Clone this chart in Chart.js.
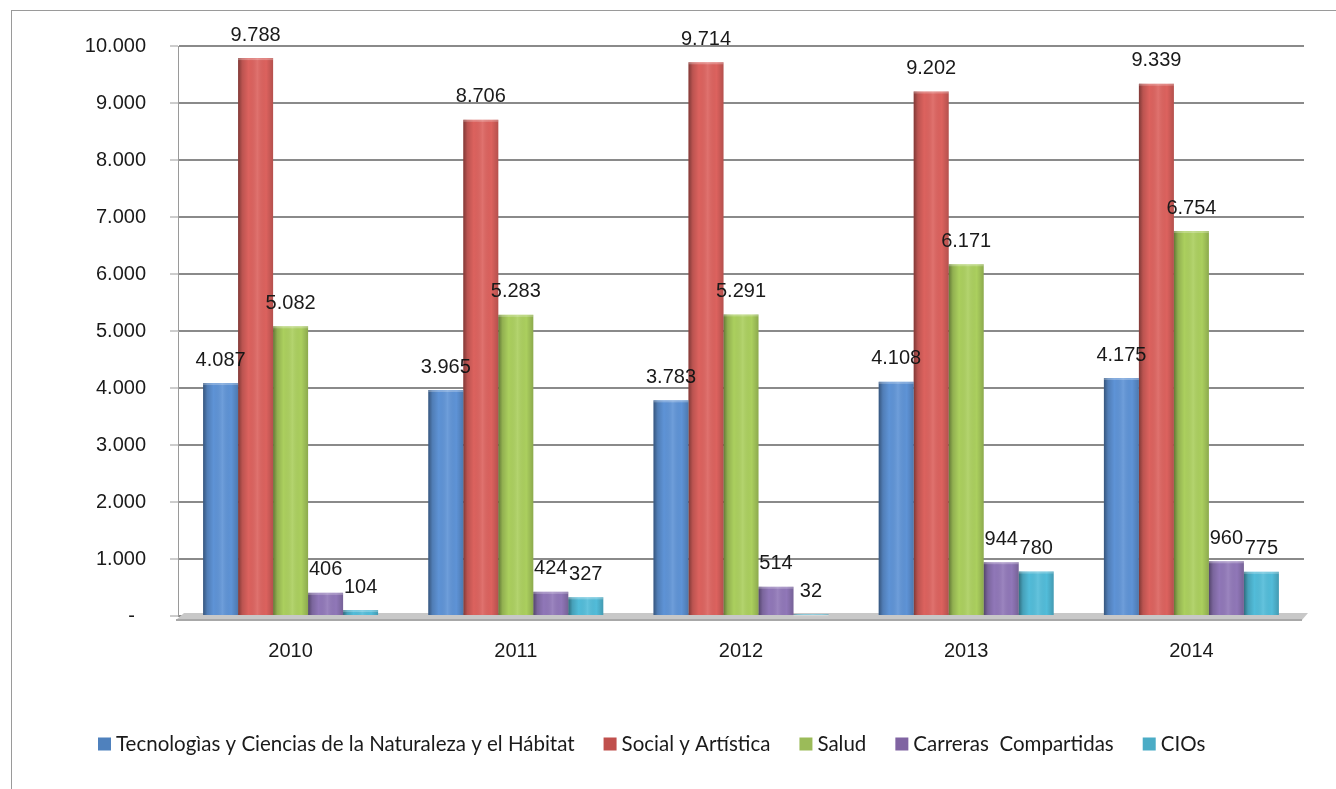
<!DOCTYPE html>
<html><head><meta charset="utf-8">
<script src="https://cdn.jsdelivr.net/npm/chart.js@4.4.0/dist/chart.umd.min.js"></script>
<style>html,body{margin:0;padding:0;background:#fff;}#wrap{width:1336px;height:789px;position:relative;}</style>
</head><body><div id="wrap"><canvas id="c" width="1336" height="789"></canvas></div>
<script>
const years = ['2010', '2011', '2012', '2013', '2014'];
const seriesNames = ['Tecnologìas y Ciencias de la Naturaleza y el Hábitat', 'Social y Artística', 'Salud', 'Carreras  Compartidas', 'CIOs'];
const tecnologias = [4087, 3965, 3783, 4108, 4175];
const social = [9788, 8706, 9714, 9202, 9339];
const salud = [5082, 5283, 5291, 6171, 6754];
const compartidas = [406, 424, 514, 944, 960];
const cios = [104, 327, 32, 780, 775];
const legendColors = ['#4F81BD', '#C0504D', '#9BBB59', '#8064A2', '#4BACC6'];
const barColors = ['#5e93d6', '#dc625e', '#abcf5e', '#9077b8', '#52bcd9'];

function fmt(v) { return String(v).replace(/\B(?=(\d{3})+(?!\d))/g, '.'); }

const allSeries = [tecnologias, social, salud, compartidas, cios];

const decor = {
  id: 'decor',
  beforeDraw(chart) {
    const ctx = chart.ctx;
    ctx.save();
    ctx.strokeStyle = '#9a9a9a';
    ctx.lineWidth = 1;
    ctx.strokeRect(11.5, 10.5, 1500, 900);
    ctx.restore();
  },
  beforeDatasetsDraw(chart) {
    const ctx = chart.ctx, a = chart.chartArea;
    const y0 = chart.scales.y.getPixelForValue(0);
    ctx.save();
    ctx.fillStyle = '#c8c8c8';
    ctx.beginPath();
    ctx.moveTo(a.left - 2, y0 + 4);
    ctx.lineTo(a.left + 6, y0 - 3);
    ctx.lineTo(a.right + 4, y0 - 3);
    ctx.lineTo(a.right - 2, y0 + 4);
    ctx.closePath();
    ctx.fill();
    ctx.fillStyle = '#a8a8a8';
    ctx.fillRect(a.left - 2, y0 + 3, a.right - a.left, 2);
    ctx.restore();
  },
  afterDatasetsDraw(chart) {
    const ctx = chart.ctx;
    ctx.save();
    chart.data.datasets.forEach((ds, i) => {
      const meta = chart.getDatasetMeta(i);
      meta.data.forEach((bar, j) => {
        const w = bar.width, l = bar.x - w / 2, top = bar.y, bot = bar.base;
        const g = ctx.createLinearGradient(l, 0, l + w, 0);
        g.addColorStop(0, 'rgba(0,0,0,0.42)');
        g.addColorStop(0.12, 'rgba(0,0,0,0.15)');
        g.addColorStop(0.3, 'rgba(0,0,0,0.0)');
        g.addColorStop(0.55, 'rgba(255,255,255,0.10)');
        g.addColorStop(0.8, 'rgba(0,0,0,0.0)');
        g.addColorStop(1, 'rgba(0,0,0,0.18)');
        ctx.fillStyle = g;
        ctx.fillRect(l, top, w, bot - top);
        ctx.fillStyle = 'rgba(255,255,255,0.25)';
        ctx.fillRect(l, top, w, 2);
        ctx.fillStyle = '#1a1a1a';
        ctx.font = '20px "Liberation Sans", Arial, sans-serif';
        ctx.textAlign = 'center';
        ctx.textBaseline = 'middle';
        ctx.fillText(fmt(allSeries[i][j]), bar.x, top - 23);
      });
    });
    ctx.restore();
  },
  afterDraw(chart) {
    const ctx = chart.ctx;
    ctx.save();
    ctx.font = '20.5px Lato, "Open Sans", sans-serif';
    ctx.textBaseline = 'middle';
    ctx.textAlign = 'left';
    let x = 98;
    const yc = 744;
    chart.data.datasets.forEach((d, i) => {
      ctx.fillStyle = legendColors[i];
      ctx.fillRect(x, yc - 6.5, 13, 13);
      ctx.fillStyle = '#1a1a1a';
      ctx.fillText(d.label, x + 18, yc);
      x += 18 + ctx.measureText(d.label).width + 29;
    });
    ctx.restore();
  }
};

new Chart(document.getElementById('c'), {
  type: 'bar',
  data: {
    labels: years,
    datasets: seriesNames.map((n, i) => ({
      label: n,
      data: allSeries[i],
      backgroundColor: barColors[i],
      borderWidth: 0,
      categoryPercentage: 0.777,
      barPercentage: 1.0
    }))
  },
  options: {
    responsive: false,
    animation: false,
    layout: { padding: { left: 0, right: 32, top: 46, bottom: 87 } },
    plugins: {
      tooltip: { enabled: false },
      legend: { display: false }
    },
    scales: {
      x: {
        grid: { display: false },
        border: { display: false },
        ticks: { color: '#1a1a1a', padding: 15, font: { family: '"Liberation Sans", Arial, sans-serif', size: 20 } },
        afterFit(s) { s.height = 86; }
      },
      y: {
        min: 0, max: 10000,
        ticks: {
          stepSize: 1000,
          color: '#1a1a1a',
          padding: 24,
          font: { family: '"Liberation Sans", Arial, sans-serif', size: 20 },
          callback: v => v === 0 ? '-  ' : fmt(v)
        },
        grid: { color: '#8a8a8a', lineWidth: 2, tickLength: 8, tickColor: '#9a9a9a', tickWidth: 1 },
        border: { display: true, color: '#9a9a9a', width: 1 },
        afterFit(s) { s.width = 178; }
      }
    }
  },
  plugins: [decor]
});
</script></body></html>
